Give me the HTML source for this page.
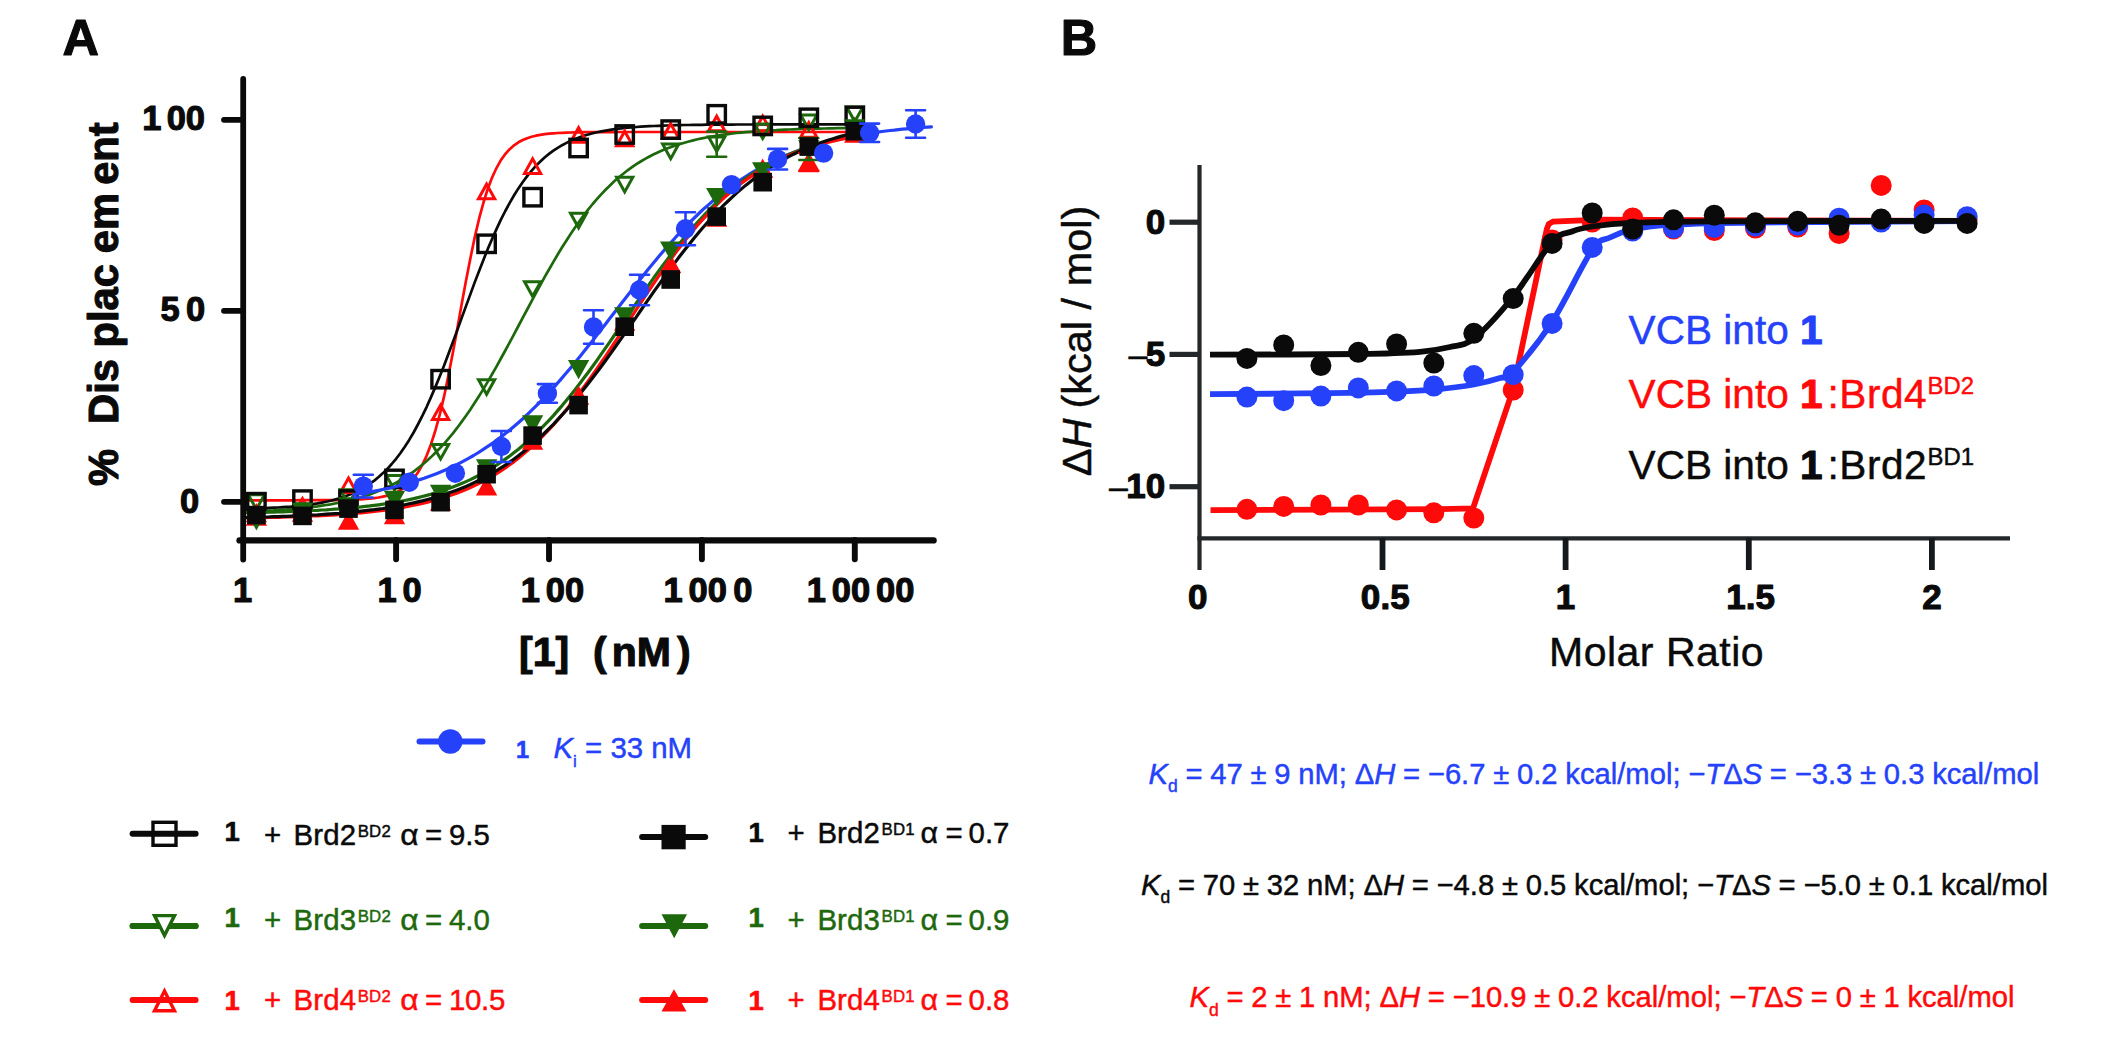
<!DOCTYPE html>
<html lang="en">
<head>
<meta charset="utf-8">
<title>Figure: displacement curves and ITC titrations</title>
<style>
html,body{margin:0;padding:0;background:#fff;}
body{width:2103px;height:1043px;overflow:hidden;}
svg{display:block;}
svg text{font-family:"Liberation Sans",sans-serif;fill:currentColor;stroke:currentColor;stroke-width:.45px;stroke-linejoin:round;}
svg text[font-weight="700"],svg tspan[font-weight="700"]{stroke-width:1.1px;}
svg tspan[font-weight="400"]{stroke-width:.45px;}
svg text.s{stroke-width:.6px;}
</style>
</head>
<body>
<svg width="2103" height="1043" viewBox="0 0 2103 1043">
<rect width="2103" height="1043" fill="#fff"/>
<g fill="none" stroke-linecap="round" stroke-linejoin="round">
<path d="M243.2 500.3 L247.6 500.3 L251.9 500.3 L256.3 500.3 L260.7 500.3 L265.0 500.3 L269.4 500.3 L273.8 500.3 L278.1 500.3 L282.5 500.3 L286.9 500.3 L291.3 500.3 L295.6 500.3 L300.0 500.2 L304.4 500.2 L308.7 500.2 L313.1 500.2 L317.5 500.2 L321.8 500.2 L326.2 500.2 L330.6 500.1 L334.9 500.1 L339.3 500.0 L343.7 499.9 L348.0 499.8 L352.4 499.7 L356.8 499.5 L361.2 499.3 L365.5 499.0 L369.9 498.6 L374.3 498.1 L378.6 497.5 L383.0 496.6 L387.4 495.6 L391.7 494.2 L396.1 492.4 L400.5 490.1 L404.8 487.1 L409.2 483.3 L413.6 478.5 L417.9 472.5 L422.3 464.9 L426.7 455.6 L431.0 444.2 L435.4 430.5 L439.8 414.4 L444.2 395.9 L448.5 375.1 L452.9 352.6 L457.3 328.8 L461.6 304.6 L466.0 280.8 L470.4 258.2 L474.7 237.4 L479.1 218.7 L483.5 202.5 L487.8 188.7 L492.2 177.2 L496.6 167.8 L500.9 160.1 L505.3 154.0 L509.7 149.2 L514.1 145.3 L518.4 142.3 L522.8 140.0 L527.2 138.2 L531.5 136.8 L535.9 135.7 L540.3 134.9 L544.6 134.2 L549.0 133.7 L553.4 133.3 L557.7 133.0 L562.1 132.8 L566.5 132.6 L570.8 132.5 L575.2 132.4 L579.6 132.3 L583.9 132.2 L588.3 132.2 L592.7 132.1 L597.1 132.1 L601.4 132.1 L605.8 132.1 L610.2 132.1 L614.5 132.1 L618.9 132.0 L623.3 132.0 L627.6 132.0 L632.0 132.0 L636.4 132.0 L640.7 132.0 L645.1 132.0 L649.5 132.0 L653.8 132.0 L658.2 132.0 L662.6 132.0 L667.0 132.0 L671.3 132.0 L675.7 132.0 L680.1 132.0 L684.4 132.0 L688.8 132.0 L693.2 132.0 L697.5 132.0 L701.9 132.0 L706.3 132.0 L710.6 132.0 L715.0 132.0 L719.4 132.0 L723.7 132.0 L728.1 132.0 L732.5 132.0 L736.8 132.0 L741.2 132.0 L745.6 132.0 L750.0 132.0 L754.3 132.0 L758.7 132.0 L763.1 132.0 L767.4 132.0 L771.8 132.0 L776.2 132.0 L780.5 132.0 L784.9 132.0 L789.3 132.0 L793.6 132.0 L798.0 132.0 L802.4 132.0 L806.7 132.0 L811.1 132.0 L815.5 132.0 L819.9 132.0 L824.2 132.0 L828.6 132.0 L833.0 132.0 L837.3 132.0 L841.7 132.0 L846.1 132.0 L850.4 132.0 L854.8 132.0" stroke="#fe0a0a" stroke-width="2.7"/>
<path d="M243.2 511.6 L247.6 511.5 L251.9 511.3 L256.3 511.1 L260.7 510.9 L265.0 510.7 L269.4 510.5 L273.8 510.3 L278.1 510.0 L282.5 509.7 L286.9 509.4 L291.3 509.0 L295.6 508.7 L300.0 508.3 L304.4 507.8 L308.7 507.4 L313.1 506.8 L317.5 506.3 L321.8 505.7 L326.2 505.0 L330.6 504.3 L334.9 503.5 L339.3 502.6 L343.7 501.7 L348.0 500.7 L352.4 499.6 L356.8 498.5 L361.2 497.2 L365.5 495.8 L369.9 494.4 L374.3 492.8 L378.6 491.0 L383.0 489.2 L387.4 487.2 L391.7 485.0 L396.1 482.7 L400.5 480.2 L404.8 477.5 L409.2 474.7 L413.6 471.6 L417.9 468.3 L422.3 464.8 L426.7 461.0 L431.0 457.1 L435.4 452.8 L439.8 448.3 L444.2 443.6 L448.5 438.6 L452.9 433.3 L457.3 427.7 L461.6 421.9 L466.0 415.8 L470.4 409.4 L474.7 402.8 L479.1 396.0 L483.5 388.9 L487.8 381.6 L492.2 374.0 L496.6 366.3 L500.9 358.5 L505.3 350.5 L509.7 342.4 L514.1 334.2 L518.4 326.0 L522.8 317.7 L527.2 309.5 L531.5 301.3 L535.9 293.2 L540.3 285.1 L544.6 277.2 L549.0 269.5 L553.4 261.9 L557.7 254.5 L562.1 247.3 L566.5 240.4 L570.8 233.7 L575.2 227.2 L579.6 221.0 L583.9 215.1 L588.3 209.4 L592.7 204.0 L597.1 198.9 L601.4 194.1 L605.8 189.5 L610.2 185.2 L614.5 181.1 L618.9 177.3 L623.3 173.7 L627.6 170.3 L632.0 167.2 L636.4 164.2 L640.7 161.5 L645.1 158.9 L649.5 156.5 L653.8 154.3 L658.2 152.2 L662.6 150.3 L667.0 148.6 L671.3 146.9 L675.7 145.4 L680.1 144.0 L684.4 142.7 L688.8 141.5 L693.2 140.4 L697.5 139.3 L701.9 138.4 L706.3 137.5 L710.6 136.7 L715.0 136.0 L719.4 135.3 L723.7 134.6 L728.1 134.1 L732.5 133.5 L736.8 133.0 L741.2 132.6 L745.6 132.2 L750.0 131.8 L754.3 131.4 L758.7 131.1 L763.1 130.8 L767.4 130.5 L771.8 130.3 L776.2 130.1 L780.5 129.8 L784.9 129.6 L789.3 129.5 L793.6 129.3 L798.0 129.1 L802.4 129.0 L806.7 128.9 L811.1 128.8 L815.5 128.7 L819.9 128.6 L824.2 128.5 L828.6 128.4 L833.0 128.3 L837.3 128.2 L841.7 128.2 L846.1 128.1 L850.4 128.1 L854.8 128.0" stroke="#1d680c" stroke-width="2.7"/>
<path d="M243.2 508.7 L247.6 508.6 L251.9 508.5 L256.3 508.4 L260.7 508.2 L265.0 508.1 L269.4 507.9 L273.8 507.7 L278.1 507.5 L282.5 507.2 L286.9 506.9 L291.3 506.6 L295.6 506.2 L300.0 505.7 L304.4 505.3 L308.7 504.7 L313.1 504.1 L317.5 503.4 L321.8 502.6 L326.2 501.7 L330.6 500.7 L334.9 499.6 L339.3 498.3 L343.7 496.8 L348.0 495.2 L352.4 493.4 L356.8 491.4 L361.2 489.1 L365.5 486.6 L369.9 483.7 L374.3 480.6 L378.6 477.0 L383.0 473.1 L387.4 468.8 L391.7 464.0 L396.1 458.8 L400.5 453.0 L404.8 446.7 L409.2 439.9 L413.6 432.5 L417.9 424.5 L422.3 415.9 L426.7 406.8 L431.0 397.1 L435.4 386.9 L439.8 376.3 L444.2 365.2 L448.5 353.7 L452.9 342.0 L457.3 330.1 L461.6 318.1 L466.0 306.1 L470.4 294.1 L474.7 282.4 L479.1 270.9 L483.5 259.7 L487.8 248.9 L492.2 238.7 L496.6 228.9 L500.9 219.6 L505.3 211.0 L509.7 202.9 L514.1 195.3 L518.4 188.4 L522.8 182.0 L527.2 176.1 L531.5 170.8 L535.9 165.9 L540.3 161.5 L544.6 157.5 L549.0 153.9 L553.4 150.7 L557.7 147.8 L562.1 145.2 L566.5 142.9 L570.8 140.8 L575.2 138.9 L579.6 137.3 L583.9 135.8 L588.3 134.5 L592.7 133.3 L597.1 132.3 L601.4 131.4 L605.8 130.6 L610.2 129.9 L614.5 129.2 L618.9 128.7 L623.3 128.2 L627.6 127.7 L632.0 127.3 L636.4 127.0 L640.7 126.7 L645.1 126.4 L649.5 126.2 L653.8 126.0 L658.2 125.8 L662.6 125.6 L667.0 125.5 L671.3 125.3 L675.7 125.2 L680.1 125.1 L684.4 125.0 L688.8 125.0 L693.2 124.9 L697.5 124.8 L701.9 124.8 L706.3 124.7 L710.6 124.7 L715.0 124.7 L719.4 124.6 L723.7 124.6 L728.1 124.6 L732.5 124.6 L736.8 124.5 L741.2 124.5 L745.6 124.5 L750.0 124.5 L754.3 124.5 L758.7 124.5 L763.1 124.5 L767.4 124.4 L771.8 124.4 L776.2 124.4 L780.5 124.4 L784.9 124.4 L789.3 124.4 L793.6 124.4 L798.0 124.4 L802.4 124.4 L806.7 124.4 L811.1 124.4 L815.5 124.4 L819.9 124.4 L824.2 124.4 L828.6 124.4 L833.0 124.4 L837.3 124.4 L841.7 124.4 L846.1 124.4 L850.4 124.4 L854.8 124.4" stroke="#0a0a0a" stroke-width="2.7"/>
</g>
<g>
<polygon points="854.8,119.7 862.9,134.3 846.7,134.3" fill="none" stroke="#fe0a0a" stroke-width="3.0" stroke-linejoin="miter"/>
<polygon points="808.8,122.7 816.9,137.3 800.7,137.3" fill="none" stroke="#fe0a0a" stroke-width="3.0" stroke-linejoin="miter"/>
<polygon points="762.7,116.2 770.8,130.8 754.6,130.8" fill="none" stroke="#fe0a0a" stroke-width="3.0" stroke-linejoin="miter"/>
<polygon points="716.7,116.2 724.8,130.8 708.6,130.8" fill="none" stroke="#fe0a0a" stroke-width="3.0" stroke-linejoin="miter"/>
<polygon points="670.7,123.7 678.8,138.3 662.6,138.3" fill="none" stroke="#fe0a0a" stroke-width="3.0" stroke-linejoin="miter"/>
<polygon points="624.7,131.2 632.8,145.8 616.6,145.8" fill="none" stroke="#fe0a0a" stroke-width="3.0" stroke-linejoin="miter"/>
<polygon points="578.6,127.7 586.7,142.3 570.5,142.3" fill="none" stroke="#fe0a0a" stroke-width="3.0" stroke-linejoin="miter"/>
<polygon points="532.6,158.8 540.7,173.4 524.5,173.4" fill="none" stroke="#fe0a0a" stroke-width="3.0" stroke-linejoin="miter"/>
<polygon points="486.6,184.2 494.7,198.8 478.5,198.8" fill="none" stroke="#fe0a0a" stroke-width="3.0" stroke-linejoin="miter"/>
<polygon points="440.6,405.0 448.7,419.6 432.5,419.6" fill="none" stroke="#fe0a0a" stroke-width="3.0" stroke-linejoin="miter"/>
<polygon points="394.5,492.7 402.6,507.3 386.4,507.3" fill="none" stroke="#fe0a0a" stroke-width="3.0" stroke-linejoin="miter"/>
<polygon points="348.5,478.0 356.6,492.6 340.4,492.6" fill="none" stroke="#fe0a0a" stroke-width="3.0" stroke-linejoin="miter"/>
<polygon points="302.5,498.7 310.6,513.3 294.4,513.3" fill="none" stroke="#fe0a0a" stroke-width="3.0" stroke-linejoin="miter"/>
<polygon points="256.4,509.7 264.5,524.3 248.3,524.3" fill="none" stroke="#fe0a0a" stroke-width="3.0" stroke-linejoin="miter"/>
<polygon points="846.7,107.0 862.9,107.0 854.8,121.6" fill="none" stroke="#1d680c" stroke-width="3.0" stroke-linejoin="miter"/>
<polygon points="800.7,115.0 816.9,115.0 808.8,129.6" fill="none" stroke="#1d680c" stroke-width="3.0" stroke-linejoin="miter"/>
<polygon points="754.6,123.9 770.8,123.9 762.7,138.5" fill="none" stroke="#1d680c" stroke-width="3.0" stroke-linejoin="miter"/>
<path d="M716.7 131.6V156.8M707.2 131.6h19.0M707.2 156.8h19.0" stroke="#1d680c" stroke-width="2.6" fill="none" stroke-linecap="round"/>
<polygon points="708.6,136.9 724.8,136.9 716.7,151.5" fill="none" stroke="#1d680c" stroke-width="3.0" stroke-linejoin="miter"/>
<polygon points="662.6,144.1 678.8,144.1 670.7,158.7" fill="none" stroke="#1d680c" stroke-width="3.0" stroke-linejoin="miter"/>
<polygon points="616.6,177.3 632.8,177.3 624.7,191.9" fill="none" stroke="#1d680c" stroke-width="3.0" stroke-linejoin="miter"/>
<polygon points="570.5,213.2 586.7,213.2 578.6,227.8" fill="none" stroke="#1d680c" stroke-width="3.0" stroke-linejoin="miter"/>
<polygon points="524.5,281.7 540.7,281.7 532.6,296.3" fill="none" stroke="#1d680c" stroke-width="3.0" stroke-linejoin="miter"/>
<polygon points="478.5,379.7 494.7,379.7 486.6,394.3" fill="none" stroke="#1d680c" stroke-width="3.0" stroke-linejoin="miter"/>
<polygon points="432.5,444.4 448.7,444.4 440.6,459.0" fill="none" stroke="#1d680c" stroke-width="3.0" stroke-linejoin="miter"/>
<polygon points="386.4,475.4 402.6,475.4 394.5,490.0" fill="none" stroke="#1d680c" stroke-width="3.0" stroke-linejoin="miter"/>
<polygon points="340.4,489.7 356.6,489.7 348.5,504.3" fill="none" stroke="#1d680c" stroke-width="3.0" stroke-linejoin="miter"/>
<polygon points="294.4,503.7 310.6,503.7 302.5,518.3" fill="none" stroke="#1d680c" stroke-width="3.0" stroke-linejoin="miter"/>
<polygon points="248.3,494.7 264.5,494.7 256.4,509.3" fill="none" stroke="#1d680c" stroke-width="3.0" stroke-linejoin="miter"/>
<rect x="846.1" y="107.2" width="17.4" height="17.4" fill="none" stroke="#0a0a0a" stroke-width="3.4"/>
<rect x="800.1" y="109.1" width="17.4" height="17.4" fill="none" stroke="#0a0a0a" stroke-width="3.4"/>
<rect x="754.0" y="117.2" width="17.4" height="17.4" fill="none" stroke="#0a0a0a" stroke-width="3.4"/>
<rect x="708.0" y="105.6" width="17.4" height="17.4" fill="none" stroke="#0a0a0a" stroke-width="3.4"/>
<rect x="662.0" y="120.9" width="17.4" height="17.4" fill="none" stroke="#0a0a0a" stroke-width="3.4"/>
<rect x="616.0" y="125.8" width="17.4" height="17.4" fill="none" stroke="#0a0a0a" stroke-width="3.4"/>
<rect x="569.9" y="139.3" width="17.4" height="17.4" fill="none" stroke="#0a0a0a" stroke-width="3.4"/>
<rect x="523.9" y="188.5" width="17.4" height="17.4" fill="none" stroke="#0a0a0a" stroke-width="3.4"/>
<rect x="477.9" y="235.1" width="17.4" height="17.4" fill="none" stroke="#0a0a0a" stroke-width="3.4"/>
<rect x="431.9" y="370.5" width="17.4" height="17.4" fill="none" stroke="#0a0a0a" stroke-width="3.4"/>
<rect x="385.8" y="470.2" width="17.4" height="17.4" fill="none" stroke="#0a0a0a" stroke-width="3.4"/>
<rect x="339.8" y="490.9" width="17.4" height="17.4" fill="none" stroke="#0a0a0a" stroke-width="3.4"/>
<rect x="293.8" y="490.9" width="17.4" height="17.4" fill="none" stroke="#0a0a0a" stroke-width="3.4"/>
<rect x="247.7" y="493.5" width="17.4" height="17.4" fill="none" stroke="#0a0a0a" stroke-width="3.4"/>
</g>
<g fill="none" stroke-linecap="round" stroke-linejoin="round">
<path d="M353.9 494.6 L358.1 493.9 L362.2 493.3 L366.3 492.6 L370.4 491.9 L374.6 491.1 L378.7 490.3 L382.8 489.5 L386.9 488.6 L391.1 487.7 L395.2 486.7 L399.3 485.6 L403.4 484.6 L407.6 483.4 L411.7 482.2 L415.8 481.0 L419.9 479.6 L424.1 478.3 L428.2 476.8 L432.3 475.3 L436.4 473.7 L440.6 472.0 L444.7 470.2 L448.8 468.4 L452.9 466.5 L457.1 464.5 L461.2 462.4 L465.3 460.2 L469.4 457.9 L473.6 455.5 L477.7 453.0 L481.8 450.4 L485.9 447.7 L490.1 444.9 L494.2 442.0 L498.3 439.0 L502.4 435.9 L506.6 432.6 L510.7 429.3 L514.8 425.8 L518.9 422.2 L523.1 418.5 L527.2 414.6 L531.3 410.7 L535.4 406.7 L539.6 402.5 L543.7 398.2 L547.8 393.8 L551.9 389.4 L556.1 384.8 L560.2 380.1 L564.3 375.3 L568.4 370.5 L572.6 365.6 L576.7 360.5 L580.8 355.5 L584.9 350.3 L589.1 345.1 L593.2 339.9 L597.3 334.6 L601.4 329.3 L605.6 323.9 L609.7 318.6 L613.8 313.2 L617.9 307.9 L622.1 302.5 L626.2 297.2 L630.3 291.9 L634.4 286.6 L638.6 281.3 L642.7 276.2 L646.8 271.0 L650.9 266.0 L655.1 261.0 L659.2 256.0 L663.3 251.2 L667.4 246.4 L671.6 241.8 L675.7 237.2 L679.8 232.8 L683.9 228.4 L688.0 224.1 L692.2 220.0 L696.3 216.0 L700.4 212.0 L704.5 208.2 L708.7 204.6 L712.8 201.0 L716.9 197.5 L721.0 194.2 L725.2 190.9 L729.3 187.8 L733.4 184.8 L737.5 181.9 L741.7 179.1 L745.8 176.5 L749.9 173.9 L754.0 171.4 L758.2 169.1 L762.3 166.8 L766.4 164.6 L770.5 162.5 L774.7 160.5 L778.8 158.6 L782.9 156.8 L787.0 155.1 L791.2 153.4 L795.3 151.8 L799.4 150.3 L803.5 148.8 L807.7 147.5 L811.8 146.2 L815.9 144.9 L820.0 143.7 L824.2 142.6 L828.3 141.5 L832.4 140.5 L836.5 139.5 L840.7 138.6 L844.8 137.7 L848.9 136.9 L853.0 136.1 L857.2 135.3 L861.3 134.6 L865.4 133.9 L869.5 133.3 L873.7 132.7 L877.8 132.1 L881.9 131.5 L886.0 131.0 L890.2 130.5 L894.3 130.1 L898.4 129.6 L902.5 129.2 L906.7 128.8 L910.8 128.4 L914.9 128.1 L919.0 127.7 L923.2 127.4 L927.3 127.1 L931.4 126.8" stroke="#2542fa" stroke-width="3.2"/>
<path d="M243.2 512.8 L247.6 512.7 L251.9 512.6 L256.3 512.5 L260.7 512.4 L265.0 512.3 L269.4 512.2 L273.8 512.1 L278.1 511.9 L282.5 511.8 L286.9 511.7 L291.3 511.5 L295.6 511.3 L300.0 511.1 L304.4 511.0 L308.7 510.7 L313.1 510.5 L317.5 510.3 L321.8 510.0 L326.2 509.8 L330.6 509.5 L334.9 509.2 L339.3 508.9 L343.7 508.5 L348.0 508.1 L352.4 507.7 L356.8 507.3 L361.2 506.9 L365.5 506.4 L369.9 505.9 L374.3 505.3 L378.6 504.8 L383.0 504.2 L387.4 503.5 L391.7 502.8 L396.1 502.1 L400.5 501.3 L404.8 500.5 L409.2 499.6 L413.6 498.6 L417.9 497.6 L422.3 496.5 L426.7 495.4 L431.0 494.2 L435.4 492.9 L439.8 491.6 L444.2 490.2 L448.5 488.6 L452.9 487.0 L457.3 485.3 L461.6 483.5 L466.0 481.6 L470.4 479.6 L474.7 477.5 L479.1 475.3 L483.5 472.9 L487.8 470.4 L492.2 467.8 L496.6 465.1 L500.9 462.2 L505.3 459.1 L509.7 456.0 L514.1 452.6 L518.4 449.2 L522.8 445.5 L527.2 441.7 L531.5 437.8 L535.9 433.7 L540.3 429.4 L544.6 424.9 L549.0 420.3 L553.4 415.6 L557.7 410.6 L562.1 405.6 L566.5 400.3 L570.8 395.0 L575.2 389.5 L579.6 383.8 L583.9 378.0 L588.3 372.2 L592.7 366.2 L597.1 360.1 L601.4 353.9 L605.8 347.6 L610.2 341.3 L614.5 335.0 L618.9 328.6 L623.3 322.2 L627.6 315.8 L632.0 309.3 L636.4 303.0 L640.7 296.6 L645.1 290.3 L649.5 284.0 L653.8 277.8 L658.2 271.8 L662.6 265.8 L667.0 259.9 L671.3 254.1 L675.7 248.4 L680.1 242.9 L684.4 237.5 L688.8 232.3 L693.2 227.2 L697.5 222.3 L701.9 217.5 L706.3 212.9 L710.6 208.5 L715.0 204.2 L719.4 200.0 L723.7 196.1 L728.1 192.3 L732.5 188.6 L736.8 185.2 L741.2 181.8 L745.6 178.6 L750.0 175.6 L754.3 172.7 L758.7 170.0 L763.1 167.3 L767.4 164.8 L771.8 162.5 L776.2 160.2 L780.5 158.1 L784.9 156.1 L789.3 154.2 L793.6 152.4 L798.0 150.7 L802.4 149.1 L806.7 147.6 L811.1 146.1 L815.5 144.8 L819.9 143.5 L824.2 142.3 L828.6 141.1 L833.0 140.1 L837.3 139.1 L841.7 138.1 L846.1 137.2 L850.4 136.4 L854.8 135.6" stroke="#1d680c" stroke-width="3.2"/>
<path d="M243.2 518.0 L247.6 517.9 L251.9 517.8 L256.3 517.8 L260.7 517.7 L265.0 517.6 L269.4 517.5 L273.8 517.4 L278.1 517.3 L282.5 517.1 L286.9 517.0 L291.3 516.9 L295.6 516.7 L300.0 516.6 L304.4 516.4 L308.7 516.2 L313.1 516.0 L317.5 515.8 L321.8 515.6 L326.2 515.4 L330.6 515.1 L334.9 514.9 L339.3 514.6 L343.7 514.3 L348.0 513.9 L352.4 513.6 L356.8 513.2 L361.2 512.8 L365.5 512.4 L369.9 511.9 L374.3 511.4 L378.6 510.9 L383.0 510.4 L387.4 509.8 L391.7 509.2 L396.1 508.5 L400.5 507.8 L404.8 507.0 L409.2 506.2 L413.6 505.3 L417.9 504.4 L422.3 503.4 L426.7 502.4 L431.0 501.3 L435.4 500.1 L439.8 498.8 L444.2 497.5 L448.5 496.1 L452.9 494.6 L457.3 493.0 L461.6 491.3 L466.0 489.5 L470.4 487.6 L474.7 485.6 L479.1 483.4 L483.5 481.2 L487.8 478.8 L492.2 476.3 L496.6 473.6 L500.9 470.8 L505.3 467.9 L509.7 464.8 L514.1 461.6 L518.4 458.2 L522.8 454.6 L527.2 450.9 L531.5 447.0 L535.9 442.9 L540.3 438.6 L544.6 434.2 L549.0 429.6 L553.4 424.9 L557.7 419.9 L562.1 414.8 L566.5 409.6 L570.8 404.1 L575.2 398.5 L579.6 392.8 L583.9 386.9 L588.3 380.9 L592.7 374.8 L597.1 368.5 L601.4 362.2 L605.8 355.8 L610.2 349.2 L614.5 342.7 L618.9 336.1 L623.3 329.4 L627.6 322.8 L632.0 316.1 L636.4 309.4 L640.7 302.8 L645.1 296.2 L649.5 289.7 L653.8 283.3 L658.2 276.9 L662.6 270.7 L667.0 264.5 L671.3 258.5 L675.7 252.6 L680.1 246.8 L684.4 241.2 L688.8 235.8 L693.2 230.5 L697.5 225.3 L701.9 220.4 L706.3 215.6 L710.6 211.0 L715.0 206.5 L719.4 202.2 L723.7 198.1 L728.1 194.2 L732.5 190.5 L736.8 186.9 L741.2 183.4 L745.6 180.2 L750.0 177.1 L754.3 174.1 L758.7 171.3 L763.1 168.6 L767.4 166.1 L771.8 163.7 L776.2 161.4 L780.5 159.3 L784.9 157.2 L789.3 155.3 L793.6 153.5 L798.0 151.8 L802.4 150.2 L806.7 148.7 L811.1 147.2 L815.5 145.9 L819.9 144.6 L824.2 143.4 L828.6 142.3 L833.0 141.2 L837.3 140.3 L841.7 139.3 L846.1 138.4 L850.4 137.6 L854.8 136.9" stroke="#fe0a0a" stroke-width="3.2"/>
<path d="M243.2 517.5 L247.6 517.4 L251.9 517.3 L256.3 517.2 L260.7 517.1 L265.0 517.0 L269.4 516.9 L273.8 516.7 L278.1 516.6 L282.5 516.4 L286.9 516.3 L291.3 516.1 L295.6 515.9 L300.0 515.7 L304.4 515.5 L308.7 515.3 L313.1 515.0 L317.5 514.8 L321.8 514.5 L326.2 514.2 L330.6 513.9 L334.9 513.6 L339.3 513.3 L343.7 512.9 L348.0 512.5 L352.4 512.1 L356.8 511.7 L361.2 511.2 L365.5 510.7 L369.9 510.2 L374.3 509.7 L378.6 509.1 L383.0 508.5 L387.4 507.8 L391.7 507.1 L396.1 506.4 L400.5 505.6 L404.8 504.7 L409.2 503.8 L413.6 502.9 L417.9 501.9 L422.3 500.9 L426.7 499.7 L431.0 498.6 L435.4 497.3 L439.8 496.0 L444.2 494.6 L448.5 493.1 L452.9 491.6 L457.3 489.9 L461.6 488.2 L466.0 486.4 L470.4 484.5 L474.7 482.4 L479.1 480.3 L483.5 478.1 L487.8 475.7 L492.2 473.2 L496.6 470.6 L500.9 467.9 L505.3 465.1 L509.7 462.1 L514.1 459.0 L518.4 455.7 L522.8 452.3 L527.2 448.7 L531.5 445.0 L535.9 441.2 L540.3 437.2 L544.6 433.0 L549.0 428.7 L553.4 424.3 L557.7 419.7 L562.1 414.9 L566.5 410.0 L570.8 405.0 L575.2 399.8 L579.6 394.5 L583.9 389.1 L588.3 383.5 L592.7 377.8 L597.1 372.1 L601.4 366.2 L605.8 360.2 L610.2 354.1 L614.5 348.0 L618.9 341.8 L623.3 335.6 L627.6 329.4 L632.0 323.1 L636.4 316.8 L640.7 310.5 L645.1 304.2 L649.5 297.9 L653.8 291.7 L658.2 285.6 L662.6 279.5 L667.0 273.4 L671.3 267.5 L675.7 261.6 L680.1 255.8 L684.4 250.2 L688.8 244.7 L693.2 239.2 L697.5 234.0 L701.9 228.8 L706.3 223.8 L710.6 218.9 L715.0 214.2 L719.4 209.7 L723.7 205.2 L728.1 201.0 L732.5 196.9 L736.8 192.9 L741.2 189.1 L745.6 185.4 L750.0 181.9 L754.3 178.5 L758.7 175.3 L763.1 172.2 L767.4 169.2 L771.8 166.4 L776.2 163.7 L780.5 161.2 L784.9 158.7 L789.3 156.4 L793.6 154.2 L798.0 152.1 L802.4 150.1 L806.7 148.2 L811.1 146.4 L815.5 144.6 L819.9 143.0 L824.2 141.5 L828.6 140.0 L833.0 138.7 L837.3 137.4 L841.7 136.1 L846.1 135.0 L850.4 133.9 L854.8 132.8" stroke="#0a0a0a" stroke-width="3.2"/>
</g>
<g>
<polygon points="854.8,126.7 862.9,141.3 846.7,141.3" fill="#fe0a0a" stroke="#fe0a0a" stroke-width="3.0" stroke-linejoin="miter"/>
<path d="M808.8 153.0V171.0M799.3 153.0h19.0M799.3 171.0h19.0" stroke="#fe0a0a" stroke-width="2.6" fill="none" stroke-linecap="round"/>
<polygon points="808.8,154.7 816.9,169.3 800.7,169.3" fill="#fe0a0a" stroke="#fe0a0a" stroke-width="3.0" stroke-linejoin="miter"/>
<polygon points="762.7,161.7 770.8,176.3 754.6,176.3" fill="#fe0a0a" stroke="#fe0a0a" stroke-width="3.0" stroke-linejoin="miter"/>
<polygon points="716.7,210.7 724.8,225.3 708.6,225.3" fill="#fe0a0a" stroke="#fe0a0a" stroke-width="3.0" stroke-linejoin="miter"/>
<polygon points="670.7,257.2 678.8,271.8 662.6,271.8" fill="#fe0a0a" stroke="#fe0a0a" stroke-width="3.0" stroke-linejoin="miter"/>
<polygon points="624.7,314.7 632.8,329.3 616.6,329.3" fill="#fe0a0a" stroke="#fe0a0a" stroke-width="3.0" stroke-linejoin="miter"/>
<polygon points="578.6,388.7 586.7,403.3 570.5,403.3" fill="#fe0a0a" stroke="#fe0a0a" stroke-width="3.0" stroke-linejoin="miter"/>
<polygon points="532.6,433.7 540.7,448.3 524.5,448.3" fill="#fe0a0a" stroke="#fe0a0a" stroke-width="3.0" stroke-linejoin="miter"/>
<polygon points="486.6,479.3 494.7,493.9 478.5,493.9" fill="#fe0a0a" stroke="#fe0a0a" stroke-width="3.0" stroke-linejoin="miter"/>
<polygon points="440.6,494.7 448.7,509.3 432.5,509.3" fill="#fe0a0a" stroke="#fe0a0a" stroke-width="3.0" stroke-linejoin="miter"/>
<polygon points="394.5,508.2 402.6,522.8 386.4,522.8" fill="#fe0a0a" stroke="#fe0a0a" stroke-width="3.0" stroke-linejoin="miter"/>
<polygon points="348.5,513.7 356.6,528.3 340.4,528.3" fill="#fe0a0a" stroke="#fe0a0a" stroke-width="3.0" stroke-linejoin="miter"/>
<polygon points="302.5,505.7 310.6,520.3 294.4,520.3" fill="#fe0a0a" stroke="#fe0a0a" stroke-width="3.0" stroke-linejoin="miter"/>
<polygon points="256.4,506.2 264.5,520.8 248.3,520.8" fill="#fe0a0a" stroke="#fe0a0a" stroke-width="3.0" stroke-linejoin="miter"/>
<polygon points="846.7,120.7 862.9,120.7 854.8,135.3" fill="#1d680c" stroke="#1d680c" stroke-width="3.0" stroke-linejoin="miter"/>
<path d="M808.8 138.0V160.0M799.3 138.0h19.0M799.3 160.0h19.0" stroke="#1d680c" stroke-width="2.6" fill="none" stroke-linecap="round"/>
<polygon points="800.7,141.7 816.9,141.7 808.8,156.3" fill="#1d680c" stroke="#1d680c" stroke-width="3.0" stroke-linejoin="miter"/>
<polygon points="754.6,163.7 770.8,163.7 762.7,178.3" fill="#1d680c" stroke="#1d680c" stroke-width="3.0" stroke-linejoin="miter"/>
<polygon points="708.6,189.4 724.8,189.4 716.7,204.0" fill="#1d680c" stroke="#1d680c" stroke-width="3.0" stroke-linejoin="miter"/>
<polygon points="662.6,243.0 678.8,243.0 670.7,257.6" fill="#1d680c" stroke="#1d680c" stroke-width="3.0" stroke-linejoin="miter"/>
<polygon points="616.6,308.7 632.8,308.7 624.7,323.3" fill="#1d680c" stroke="#1d680c" stroke-width="3.0" stroke-linejoin="miter"/>
<polygon points="570.5,361.5 586.7,361.5 578.6,376.1" fill="#1d680c" stroke="#1d680c" stroke-width="3.0" stroke-linejoin="miter"/>
<polygon points="524.5,416.7 540.7,416.7 532.6,431.3" fill="#1d680c" stroke="#1d680c" stroke-width="3.0" stroke-linejoin="miter"/>
<polygon points="478.5,460.7 494.7,460.7 486.6,475.3" fill="#1d680c" stroke="#1d680c" stroke-width="3.0" stroke-linejoin="miter"/>
<polygon points="432.5,486.2 448.7,486.2 440.6,500.8" fill="#1d680c" stroke="#1d680c" stroke-width="3.0" stroke-linejoin="miter"/>
<polygon points="386.4,492.3 402.6,492.3 394.5,506.9" fill="#1d680c" stroke="#1d680c" stroke-width="3.0" stroke-linejoin="miter"/>
<polygon points="340.4,498.7 356.6,498.7 348.5,513.3" fill="#1d680c" stroke="#1d680c" stroke-width="3.0" stroke-linejoin="miter"/>
<polygon points="294.4,504.2 310.6,504.2 302.5,518.8" fill="#1d680c" stroke="#1d680c" stroke-width="3.0" stroke-linejoin="miter"/>
<polygon points="248.3,512.7 264.5,512.7 256.4,527.3" fill="#1d680c" stroke="#1d680c" stroke-width="3.0" stroke-linejoin="miter"/>
<rect x="845.5" y="121.9" width="18.6" height="18.6" fill="#0a0a0a"/>
<rect x="799.5" y="137.3" width="18.6" height="18.6" fill="#0a0a0a"/>
<rect x="753.4" y="172.9" width="18.6" height="18.6" fill="#0a0a0a"/>
<rect x="707.4" y="207.3" width="18.6" height="18.6" fill="#0a0a0a"/>
<rect x="661.4" y="270.2" width="18.6" height="18.6" fill="#0a0a0a"/>
<rect x="615.4" y="317.4" width="18.6" height="18.6" fill="#0a0a0a"/>
<rect x="569.3" y="395.8" width="18.6" height="18.6" fill="#0a0a0a"/>
<rect x="523.3" y="426.3" width="18.6" height="18.6" fill="#0a0a0a"/>
<rect x="477.3" y="464.9" width="18.6" height="18.6" fill="#0a0a0a"/>
<rect x="431.3" y="492.9" width="18.6" height="18.6" fill="#0a0a0a"/>
<rect x="385.2" y="500.6" width="18.6" height="18.6" fill="#0a0a0a"/>
<rect x="339.2" y="499.3" width="18.6" height="18.6" fill="#0a0a0a"/>
<rect x="293.2" y="506.6" width="18.6" height="18.6" fill="#0a0a0a"/>
<rect x="247.1" y="505.8" width="18.6" height="18.6" fill="#0a0a0a"/>
<path d="M915.6 110.2V137.8M906.1 110.2h19.0M906.1 137.8h19.0" stroke="#2542fa" stroke-width="2.6" fill="none" stroke-linecap="round"/>
<circle cx="915.6" cy="124.0" r="9.7" fill="#2542fa"/>
<path d="M869.6 123.6V142.0M860.1 123.6h19.0M860.1 142.0h19.0" stroke="#2542fa" stroke-width="2.6" fill="none" stroke-linecap="round"/>
<circle cx="869.6" cy="132.8" r="9.7" fill="#2542fa"/>
<circle cx="823.6" cy="153.1" r="9.7" fill="#2542fa"/>
<path d="M777.6 148.9V169.5M768.1 148.9h19.0M768.1 169.5h19.0" stroke="#2542fa" stroke-width="2.6" fill="none" stroke-linecap="round"/>
<circle cx="777.6" cy="159.2" r="9.7" fill="#2542fa"/>
<circle cx="731.5" cy="184.6" r="9.7" fill="#2542fa"/>
<path d="M685.5 212.3V245.3M676.0 212.3h19.0M676.0 245.3h19.0" stroke="#2542fa" stroke-width="2.6" fill="none" stroke-linecap="round"/>
<circle cx="685.5" cy="228.8" r="9.7" fill="#2542fa"/>
<path d="M639.5 274.7V305.3M630.0 274.7h19.0M630.0 305.3h19.0" stroke="#2542fa" stroke-width="2.6" fill="none" stroke-linecap="round"/>
<circle cx="639.5" cy="290.0" r="9.7" fill="#2542fa"/>
<path d="M593.5 310.3V343.7M584.0 310.3h19.0M584.0 343.7h19.0" stroke="#2542fa" stroke-width="2.6" fill="none" stroke-linecap="round"/>
<circle cx="593.5" cy="327.0" r="9.7" fill="#2542fa"/>
<path d="M547.4 384.1V402.7M537.9 384.1h19.0M537.9 402.7h19.0" stroke="#2542fa" stroke-width="2.6" fill="none" stroke-linecap="round"/>
<circle cx="547.4" cy="393.4" r="9.7" fill="#2542fa"/>
<path d="M501.4 431.0V462.0M491.9 431.0h19.0M491.9 462.0h19.0" stroke="#2542fa" stroke-width="2.6" fill="none" stroke-linecap="round"/>
<circle cx="501.4" cy="446.5" r="9.7" fill="#2542fa"/>
<circle cx="455.4" cy="473.2" r="9.7" fill="#2542fa"/>
<circle cx="409.3" cy="482.2" r="9.7" fill="#2542fa"/>
<path d="M363.3 474.7V497.5M353.8 474.7h19.0M353.8 497.5h19.0" stroke="#2542fa" stroke-width="2.6" fill="none" stroke-linecap="round"/>
<circle cx="363.3" cy="486.1" r="9.7" fill="#2542fa"/>
</g>
<g stroke="#0a0a0a" stroke-width="5.8" stroke-linecap="round" fill="none">
<path d="M243.2 78.8V559.5"/>
<path d="M239.5 540.4H933.6" stroke-width="6.3"/>
<path d="M224.0 501.8H243"/>
<path d="M224.0 310.8H243"/>
<path d="M224.0 119.8H243"/>
<path d="M396.1 540V559.2" stroke-width="5.9"/>
<path d="M549.0 540V559.2" stroke-width="5.9"/>
<path d="M701.9 540V559.2" stroke-width="5.9"/>
<path d="M854.8 540V559.2" stroke-width="5.9"/>
</g>
<g fill="none" stroke-linecap="butt" stroke-linejoin="round" stroke-width="5.8">
<path d="M1210.5 510.2 L1440.0 509.2 L1473.0 508.4 L1513.2 389.0 L1546.8 229.0 L1548.8 224.0 L1553.0 221.6 L1600.0 219.6 L1700.0 220.2 L1967.0 220.8" stroke="#fe0a0a" stroke-linejoin="miter"/>
</g>
<g>
<circle cx="1246.9" cy="509.3" r="10.5" fill="#fe0a0a"/>
<circle cx="1283.7" cy="506.4" r="10.5" fill="#fe0a0a"/>
<circle cx="1320.9" cy="505.0" r="10.5" fill="#fe0a0a"/>
<circle cx="1358.3" cy="505.0" r="10.5" fill="#fe0a0a"/>
<circle cx="1396.6" cy="509.9" r="10.5" fill="#fe0a0a"/>
<circle cx="1433.8" cy="512.8" r="10.5" fill="#fe0a0a"/>
<circle cx="1473.8" cy="518.0" r="10.5" fill="#fe0a0a"/>
<circle cx="1513.2" cy="390.0" r="10.5" fill="#fe0a0a"/>
<circle cx="1552.1" cy="240.0" r="10.5" fill="#fe0a0a"/>
<circle cx="1592.2" cy="222.0" r="10.5" fill="#fe0a0a"/>
<circle cx="1632.7" cy="218.0" r="10.5" fill="#fe0a0a"/>
<circle cx="1673.5" cy="229.0" r="10.5" fill="#fe0a0a"/>
<circle cx="1714.3" cy="230.5" r="10.5" fill="#fe0a0a"/>
<circle cx="1755.4" cy="228.0" r="10.5" fill="#fe0a0a"/>
<circle cx="1797.7" cy="227.0" r="10.5" fill="#fe0a0a"/>
<circle cx="1839.1" cy="233.6" r="10.5" fill="#fe0a0a"/>
<circle cx="1881.2" cy="185.4" r="10.5" fill="#fe0a0a"/>
<circle cx="1924.1" cy="210.0" r="10.5" fill="#fe0a0a"/>
<circle cx="1967.1" cy="220.0" r="10.5" fill="#fe0a0a"/>
</g>
<path d="M1210.0 394.2 C1229.2 394.0 1300.1 393.6 1330.0 393.2 C1359.9 392.8 1380.4 392.2 1397.0 391.6 C1413.6 391.0 1421.7 390.7 1434.0 389.6 C1446.3 388.5 1463.4 386.4 1474.0 384.5 C1484.6 382.6 1493.8 380.0 1500.0 378.0 C1506.2 376.0 1504.7 381.0 1513.0 372.0 C1521.3 363.0 1539.4 341.5 1552.0 322.0 C1564.6 302.5 1582.7 263.5 1592.0 250.0 C1601.3 236.5 1603.6 240.8 1610.0 237.5 C1616.4 234.2 1621.9 231.6 1632.0 229.5 C1642.1 227.4 1653.3 225.7 1673.0 224.6 C1692.7 223.5 1708.0 223.0 1755.0 222.5 C1802.0 222.0 1933.1 221.4 1967.0 221.2" fill="none" stroke="#2542fa" stroke-width="5.8"/>
<g>
<circle cx="1246.9" cy="397.1" r="10.5" fill="#2542fa"/>
<circle cx="1283.7" cy="400.7" r="10.5" fill="#2542fa"/>
<circle cx="1320.9" cy="396.1" r="10.5" fill="#2542fa"/>
<circle cx="1358.3" cy="387.9" r="10.5" fill="#2542fa"/>
<circle cx="1396.6" cy="390.9" r="10.5" fill="#2542fa"/>
<circle cx="1433.8" cy="386.0" r="10.5" fill="#2542fa"/>
<circle cx="1473.8" cy="375.6" r="10.5" fill="#2542fa"/>
<circle cx="1513.2" cy="374.7" r="10.5" fill="#2542fa"/>
<circle cx="1552.1" cy="323.4" r="10.5" fill="#2542fa"/>
<circle cx="1592.2" cy="247.4" r="10.5" fill="#2542fa"/>
<circle cx="1632.7" cy="231.0" r="10.5" fill="#2542fa"/>
<circle cx="1673.5" cy="228.0" r="10.5" fill="#2542fa"/>
<circle cx="1714.3" cy="227.5" r="10.5" fill="#2542fa"/>
<circle cx="1755.4" cy="226.0" r="10.5" fill="#2542fa"/>
<circle cx="1797.7" cy="225.0" r="10.5" fill="#2542fa"/>
<circle cx="1839.1" cy="218.2" r="10.5" fill="#2542fa"/>
<circle cx="1881.2" cy="222.0" r="10.5" fill="#2542fa"/>
<circle cx="1924.1" cy="215.0" r="10.5" fill="#2542fa"/>
<circle cx="1967.1" cy="216.7" r="10.5" fill="#2542fa"/>
</g>
<path d="M1210.0 354.7 C1234.0 354.6 1326.4 354.5 1360.0 354.0 C1393.6 353.5 1405.6 352.9 1420.0 351.8 C1434.4 350.7 1441.4 349.1 1450.0 347.0 C1458.6 344.9 1463.9 346.5 1474.0 338.5 C1484.1 330.5 1500.5 312.4 1513.0 297.0 C1525.5 281.6 1542.6 252.5 1552.0 242.0 C1561.4 231.5 1565.6 234.0 1572.0 231.5 C1578.4 229.0 1582.4 227.9 1592.0 226.5 C1601.6 225.1 1612.5 223.6 1632.0 222.8 C1651.5 222.0 1660.4 221.6 1714.0 221.3 C1767.6 221.0 1926.5 220.9 1967.0 220.8" fill="none" stroke="#0a0a0a" stroke-width="5.8"/>
<g>
<circle cx="1246.9" cy="358.4" r="10.5" fill="#0a0a0a"/>
<circle cx="1283.7" cy="344.9" r="10.5" fill="#0a0a0a"/>
<circle cx="1320.9" cy="365.5" r="10.5" fill="#0a0a0a"/>
<circle cx="1358.3" cy="352.3" r="10.5" fill="#0a0a0a"/>
<circle cx="1396.6" cy="344.0" r="10.5" fill="#0a0a0a"/>
<circle cx="1433.8" cy="363.0" r="10.5" fill="#0a0a0a"/>
<circle cx="1473.8" cy="333.3" r="10.5" fill="#0a0a0a"/>
<circle cx="1513.2" cy="298.6" r="10.5" fill="#0a0a0a"/>
<circle cx="1552.1" cy="243.4" r="10.5" fill="#0a0a0a"/>
<circle cx="1592.2" cy="213.0" r="10.5" fill="#0a0a0a"/>
<circle cx="1632.7" cy="229.0" r="10.5" fill="#0a0a0a"/>
<circle cx="1673.5" cy="219.8" r="10.5" fill="#0a0a0a"/>
<circle cx="1714.3" cy="215.2" r="10.5" fill="#0a0a0a"/>
<circle cx="1755.4" cy="222.8" r="10.5" fill="#0a0a0a"/>
<circle cx="1797.7" cy="221.3" r="10.5" fill="#0a0a0a"/>
<circle cx="1839.1" cy="225.3" r="10.5" fill="#0a0a0a"/>
<circle cx="1881.2" cy="219.1" r="10.5" fill="#0a0a0a"/>
<circle cx="1924.1" cy="223.4" r="10.5" fill="#0a0a0a"/>
<circle cx="1967.1" cy="223.4" r="10.5" fill="#0a0a0a"/>
</g>
<g stroke="#23272a" fill="none">
<path d="M1199.5 165V570" stroke-width="4.2"/>
<path d="M1197.4 538.4H2010" stroke-width="4.2"/>
<path d="M1169.5 222.2H1199" stroke-width="5.2"/>
<path d="M1169.5 354.4H1199" stroke-width="5.2"/>
<path d="M1169.5 486.7H1199" stroke-width="5.2"/>
<path d="M1382.5 538V570" stroke-width="5.8" stroke="#16191b"/>
<path d="M1565.6 538V570" stroke-width="5.8" stroke="#16191b"/>
<path d="M1748.8 538V570" stroke-width="5.8" stroke="#16191b"/>
<path d="M1931.9 538V570" stroke-width="5.8" stroke="#16191b"/>
</g>
<path d="M419.5 741.5H482.5" stroke="#2542fa" stroke-width="6" stroke-linecap="round" fill="none"/>
<circle cx="450.3" cy="741.5" r="12.2" fill="#2542fa"/>
<path d="M132.6 833.8H195.6" stroke="#0a0a0a" stroke-width="6" stroke-linecap="round" fill="none"/>
<rect x="153.0" y="822.3" width="23" height="23" fill="none" stroke="#0a0a0a" stroke-width="3.4"/>
<path d="M642.1 837.1H705.2" stroke="#0a0a0a" stroke-width="6" stroke-linecap="round" fill="none"/>
<rect x="661.5" y="824.9" width="24.2" height="24.4" fill="#0a0a0a"/>
<path d="M132.6 925.9H195.6" stroke="#1d680c" stroke-width="6" stroke-linecap="round" fill="none"/>
<polygon points="154.5,915.6 174.5,915.6 164.5,935.4" fill="#fff" stroke="#1d680c" stroke-width="3.4"/>
<path d="M132.6 925.9H152.0" stroke="#1d680c" stroke-width="6" stroke-linecap="round" fill="none"/>
<path d="M177.0 925.9H195.6" stroke="#1d680c" stroke-width="6" stroke-linecap="round" fill="none"/>
<path d="M642.1 925.9H705.2" stroke="#1d680c" stroke-width="6" stroke-linecap="round" fill="none"/>
<polygon points="661.5,914.3 687,914.3 674.2,938.3" fill="#1d680c"/>
<path d="M132.6 1000.0H195.6" stroke="#fe0a0a" stroke-width="6" stroke-linecap="round" fill="none"/>
<polygon points="164.5,991.0 174.5,1010.8 154.5,1010.8" fill="none" stroke="#fe0a0a" stroke-width="3.4"/>
<path d="M642.1 999.9H705.2" stroke="#fe0a0a" stroke-width="6" stroke-linecap="round" fill="none"/>
<polygon points="674.0,989.3 686.5,1011.5 661.5,1011.5" fill="#fe0a0a"/>
<g color="#0a0a0a">
<text x="62.5" y="55.2" font-size="50.5" font-weight="700">A</text>
<text x="1060.7" y="55.2" font-size="50.5" font-weight="700">B</text>
<text x="142.2" y="130.4" font-size="34.5" font-weight="700">1<tspan dx="5.3">00</tspan></text>
<text x="160.4" y="321.4" font-size="34.5" font-weight="700">5<tspan dx="6.5">0</tspan></text>
<text x="180.0" y="512.8" font-size="34.5" font-weight="700">0</text>
<text x="233.0" y="602.2" font-size="34.5" font-weight="700">1</text>
<text x="377.6" y="602.2" font-size="34.5" font-weight="700">1<tspan dx="5.8">0</tspan></text>
<text x="520.8" y="602.2" font-size="34.5" font-weight="700">1<tspan dx="5.8">00</tspan></text>
<text x="663.6" y="602.2" font-size="34.5" font-weight="700">1<tspan dx="5.8">00</tspan><tspan dx="6.2">0</tspan></text>
<text x="806.8" y="602.2" font-size="34.5" font-weight="700">1<tspan dx="5.8">00</tspan><tspan dx="5.8">00</tspan></text>
<text x="519.0" y="665.8" font-size="41" font-weight="700" xml:space="preserve">[1]<tspan dx="24">(</tspan><tspan dx="5">nM</tspan><tspan dx="6">)</tspan></text>
<text transform="translate(118.4 486.0) rotate(-90)" font-size="41.7" font-weight="700" xml:space="preserve">%<tspan dx="25">Dis</tspan><tspan dx="11.5">plac</tspan><tspan dx="11">em</tspan><tspan dx="8">ent</tspan></text>
<text x="1165.3" y="233.6" font-size="35" font-weight="700" text-anchor="end">0</text>
<text x="1165.3" y="365.8" font-size="35" text-anchor="end"><tspan font-weight="400" font-size="34">–</tspan><tspan font-weight="700" dx="-1.6">5</tspan></text>
<text x="1165.3" y="498.1" font-size="35" text-anchor="end"><tspan font-weight="400" font-size="34">–</tspan><tspan font-weight="700" dx="-1.6">10</tspan></text>
<text x="1197.8" y="608.6" font-size="35" font-weight="700" text-anchor="middle" letter-spacing="0">0</text>
<text x="1385.4" y="608.6" font-size="35" font-weight="700" text-anchor="middle" letter-spacing="0.2">0.5</text>
<text x="1565.6" y="608.6" font-size="35" font-weight="700" text-anchor="middle" letter-spacing="0">1</text>
<text x="1750.7" y="608.6" font-size="35" font-weight="700" text-anchor="middle" letter-spacing="0">1.5</text>
<text x="1931.9" y="608.6" font-size="35" font-weight="700" text-anchor="middle" letter-spacing="0">2</text>
<text x="1549.0" y="666.0" font-size="41" letter-spacing="0.5">Molar Ratio</text>
<text transform="translate(1090.5 476.2) rotate(-90)" font-size="41.5">Δ<tspan font-style="italic">H</tspan><tspan dx="-1.6"> (kcal / mol)</tspan></text>
<text x="1628.6" y="344.4" font-size="40.6" color="#2542fa">VCB into <tspan font-weight="700">1</tspan></text>
<text x="1628.6" y="407.5" font-size="40.6" color="#fe0a0a">VCB into <tspan font-weight="700">1</tspan><tspan dx="5" letter-spacing="0.5">:Brd4</tspan><tspan font-size="23.9" dy="-13.9" dx="0.4">BD2</tspan></text>
<text x="1628.6" y="478.8" font-size="40.6" color="#0a0a0a">VCB into <tspan font-weight="700">1</tspan><tspan dx="5" letter-spacing="0.5">:Brd2</tspan><tspan font-size="23.9" dy="-13.9" dx="0.4">BD1</tspan></text>
<text x="1148.5" y="783.5" font-size="29.2" color="#2542fa" word-spacing="-0.35" xml:space="preserve"><tspan font-style="italic">K</tspan><tspan font-size="17.5" dy="8.5">d</tspan><tspan dy="-8.5"> = 47 ± 9 nM; </tspan>Δ<tspan font-style="italic">H</tspan> = −6.7 ± 0.2 kcal/mol; −<tspan font-style="italic">T</tspan>Δ<tspan font-style="italic">S</tspan> = −3.3 ± 0.3 kcal/mol</text>
<text x="1141.0" y="894.9" font-size="29.2" color="#0a0a0a" word-spacing="-0.35" xml:space="preserve"><tspan font-style="italic">K</tspan><tspan font-size="17.5" dy="8.5">d</tspan><tspan dy="-8.5"> = 70 ± 32 nM; </tspan>Δ<tspan font-style="italic">H</tspan> = −4.8 ± 0.5 kcal/mol; −<tspan font-style="italic">T</tspan>Δ<tspan font-style="italic">S</tspan> = −5.0 ± 0.1 kcal/mol</text>
<text x="1189.5" y="1007.2" font-size="29.2" color="#fe0a0a" word-spacing="-0.35" xml:space="preserve"><tspan font-style="italic">K</tspan><tspan font-size="17.5" dy="8.5">d</tspan><tspan dy="-8.5"> = 2 ± 1 nM; </tspan>Δ<tspan font-style="italic">H</tspan> = −10.9 ± 0.2 kcal/mol; −<tspan font-style="italic">T</tspan>Δ<tspan font-style="italic">S</tspan> = 0 ± 1 kcal/mol</text>
<text x="516.0" y="758.0" font-size="23.5" font-weight="700" class="s" color="#2542fa">1</text>
<text x="553.5" y="758.2" font-size="29.4" color="#2542fa" word-spacing="0" xml:space="preserve"><tspan font-style="italic">K</tspan><tspan font-size="17" dy="9">i</tspan><tspan dy="-9"> = 33 nM</tspan></text>
<text x="224.5" y="841.4" font-size="27.5" font-weight="700" class="s" color="#0a0a0a">1</text>
<text x="264.0" y="845.3" font-size="29.4" color="#0a0a0a" xml:space="preserve">+<tspan x="293.6" letter-spacing="0.1">Brd2</tspan><tspan font-size="16.8" dy="-8" dx="1.6" letter-spacing="0.2">BD2</tspan><tspan dy="8" x="425.0">=</tspan><tspan x="449.0" letter-spacing="0">9.5</tspan></text>
<text x="400.3" y="845.3" font-size="29.4" color="#0a0a0a" textLength="18.4" lengthAdjust="spacingAndGlyphs">α</text>
<text x="748.5" y="842.4" font-size="27.5" font-weight="700" class="s" color="#0a0a0a">1</text>
<text x="787.5" y="843.2" font-size="29.4" color="#0a0a0a" xml:space="preserve">+<tspan x="817.4" letter-spacing="0.1">Brd2</tspan><tspan font-size="16.8" dy="-8" dx="1.6" letter-spacing="0.2">BD1</tspan><tspan dy="8" x="945.5">=</tspan><tspan x="968.6" letter-spacing="0">0.7</tspan></text>
<text x="920.6" y="843.2" font-size="29.4" color="#0a0a0a" textLength="17.6" lengthAdjust="spacingAndGlyphs">α</text>
<text x="224.5" y="926.9" font-size="27.5" font-weight="700" class="s" color="#1d680c">1</text>
<text x="264.0" y="930.2" font-size="29.4" color="#1d680c" xml:space="preserve">+<tspan x="293.6" letter-spacing="0.1">Brd3</tspan><tspan font-size="16.8" dy="-8" dx="1.6" letter-spacing="0.2">BD2</tspan><tspan dy="8" x="425.0">=</tspan><tspan x="449.0" letter-spacing="0">4.0</tspan></text>
<text x="400.3" y="930.2" font-size="29.4" color="#1d680c" textLength="18.4" lengthAdjust="spacingAndGlyphs">α</text>
<text x="748.5" y="926.9" font-size="27.5" font-weight="700" class="s" color="#1d680c">1</text>
<text x="787.5" y="930.2" font-size="29.4" color="#1d680c" xml:space="preserve">+<tspan x="817.4" letter-spacing="0.1">Brd3</tspan><tspan font-size="16.8" dy="-8" dx="1.6" letter-spacing="0.2">BD1</tspan><tspan dy="8" x="945.5">=</tspan><tspan x="968.6" letter-spacing="0">0.9</tspan></text>
<text x="920.6" y="930.2" font-size="29.4" color="#1d680c" textLength="17.6" lengthAdjust="spacingAndGlyphs">α</text>
<text x="224.5" y="1009.7" font-size="27.5" font-weight="700" class="s" color="#fe0a0a">1</text>
<text x="264.0" y="1009.8" font-size="29.4" color="#fe0a0a" xml:space="preserve">+<tspan x="293.6" letter-spacing="0.1">Brd4</tspan><tspan font-size="16.8" dy="-8" dx="1.6" letter-spacing="0.2">BD2</tspan><tspan dy="8" x="425.0">=</tspan><tspan x="449.0" letter-spacing="-0.3">10.5</tspan></text>
<text x="400.3" y="1009.8" font-size="29.4" color="#fe0a0a" textLength="18.4" lengthAdjust="spacingAndGlyphs">α</text>
<text x="748.5" y="1010.1" font-size="27.5" font-weight="700" class="s" color="#fe0a0a">1</text>
<text x="787.5" y="1010.1" font-size="29.4" color="#fe0a0a" xml:space="preserve">+<tspan x="817.4" letter-spacing="0.1">Brd4</tspan><tspan font-size="16.8" dy="-8" dx="1.6" letter-spacing="0.2">BD1</tspan><tspan dy="8" x="945.5">=</tspan><tspan x="968.6" letter-spacing="0">0.8</tspan></text>
<text x="920.6" y="1010.1" font-size="29.4" color="#fe0a0a" textLength="17.6" lengthAdjust="spacingAndGlyphs">α</text>
</g>
</svg>
</body>
</html>
